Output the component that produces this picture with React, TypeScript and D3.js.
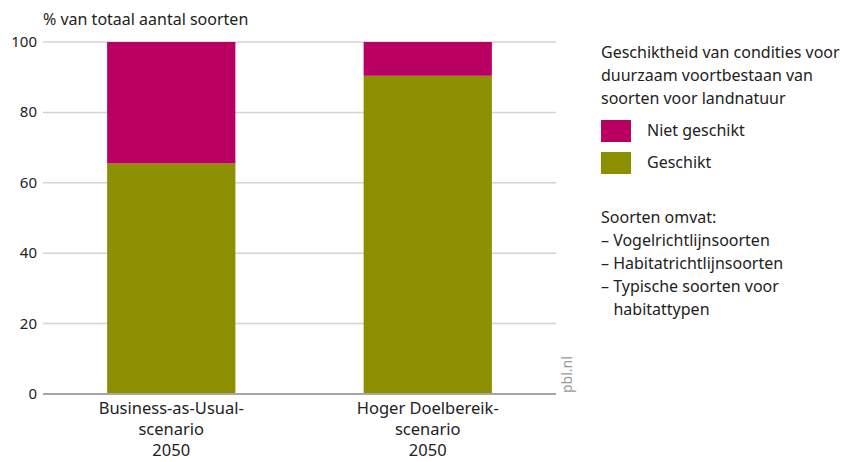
import React, { useEffect, useRef } from 'react';
import * as d3 from 'd3';

const categories = [
  ['Business-as-Usual-', 'scenario', '2050'],
  ['Hoger Doelbereik-', 'scenario', '2050'],
];
const geschikt = [65.5, 90.4];
const nietGeschikt = [34.5, 9.6];
const yTicks = [0, 20, 40, 60, 80, 100];
const seriesNames = ['Niet geschikt', 'Geschikt'];
const seriesColors = ['#b90062', '#8c9000'];
const legendTitle = ['Geschiktheid van condities voor', 'duurzaam voortbestaan van', 'soorten voor landnatuur'];
const noteLines = ['Soorten omvat:', '– Vogelrichtlijnsoorten', '– Habitatrichtlijnsoorten', '– Typische soorten voor', '   habitattypen'];

const App = () => {
  const ref = useRef<SVGSVGElement>(null);

  useEffect(() => {
    const w = 844;
    const h = 462;
    const left = 43, right = 556, top = 42, bottom = 394;
    const font = "'Noto Sans', sans-serif";

    const svg = d3.select(ref.current);
    svg.selectAll('*').remove();
    svg.attr('width', w).attr('height', h).style('font-family', font);

    const xScale = d3.scaleBand<number>()
      .domain(d3.range(categories.length))
      .range([left, right])
      .paddingInner(0.5)
      .paddingOuter(0.25);

    const yScale = d3.scaleLinear().domain([0, 100]).range([bottom, top]);

    // gridlines
    svg.append('g')
      .selectAll('line')
      .data(yTicks.filter(d => d > 0))
      .enter()
      .append('line')
      .attr('x1', left)
      .attr('x2', right)
      .attr('y1', d => yScale(d))
      .attr('y2', d => yScale(d))
      .attr('stroke', '#d4d4d4')
      .attr('stroke-width', 1.5);

    // tick labels
    svg.append('g')
      .selectAll('text')
      .data(yTicks)
      .enter()
      .append('text')
      .attr('x', 37)
      .attr('y', d => yScale(d) + 5)
      .attr('text-anchor', 'end')
      .attr('font-size', 15)
      .attr('fill', '#222')
      .text(d => d);

    // stacked bars
    const bars = svg.append('g');
    categories.forEach((c, i) => {
      bars.append('rect')
        .attr('x', xScale(i)!)
        .attr('y', yScale(geschikt[i]))
        .attr('width', xScale.bandwidth())
        .attr('height', yScale(0) - yScale(geschikt[i]))
        .attr('fill', seriesColors[1]);
      bars.append('rect')
        .attr('x', xScale(i)!)
        .attr('y', yScale(geschikt[i] + nietGeschikt[i]))
        .attr('width', xScale.bandwidth())
        .attr('height', yScale(geschikt[i]) - yScale(geschikt[i] + nietGeschikt[i]))
        .attr('fill', seriesColors[0]);
    });

    // base axis line
    svg.append('line')
      .attr('x1', left)
      .attr('x2', right)
      .attr('y1', yScale(0))
      .attr('y2', yScale(0))
      .attr('stroke', '#a6a6a6')
      .attr('stroke-width', 2);

    // category labels
    categories.forEach((lines, i) => {
      const t = svg.append('text')
        .attr('text-anchor', 'middle')
        .attr('font-size', 16.5)
        .attr('fill', '#222');
      lines.forEach((l, j) => {
        t.append('tspan')
          .attr('x', xScale(i)! + xScale.bandwidth() / 2)
          .attr('y', 414 + j * 21)
          .text(l);
      });
    });

    // axis title
    svg.append('text')
      .attr('x', 43)
      .attr('y', 25)
      .attr('font-size', 16)
      .attr('fill', '#222')
      .text('% van totaal aantal soorten');

    // source
    svg.append('text')
      .attr('transform', `translate(572, ${bottom - 1}) rotate(-90)`)
      .attr('font-size', 14)
      .attr('fill', '#999')
      .text('pbl.nl');

    // legend
    legendTitle.forEach((l, j) => {
      svg.append('text')
        .attr('x', 601)
        .attr('y', 58 + j * 23)
        .attr('font-size', 16)
        .attr('fill', '#222')
        .text(l);
    });
    seriesNames.forEach((n, j) => {
      svg.append('rect')
        .attr('x', 601)
        .attr('y', 120 + j * 32)
        .attr('width', 30)
        .attr('height', 22)
        .attr('fill', seriesColors[j]);
      svg.append('text')
        .attr('x', 647)
        .attr('y', 136 + j * 32)
        .attr('font-size', 16)
        .attr('fill', '#222')
        .text(n);
    });
    noteLines.forEach((l, j) => {
      svg.append('text')
        .attr('x', 601)
        .attr('y', 223 + j * 23)
        .attr('font-size', 16)
        .attr('fill', '#222')
        .attr('xml:space', 'preserve')
        .style('white-space', 'pre')
        .text(l);
    });
  }, []);

  return <svg ref={ref} style={{ position: 'absolute', left: 0, top: 0 }}></svg>;
};

export default App;
